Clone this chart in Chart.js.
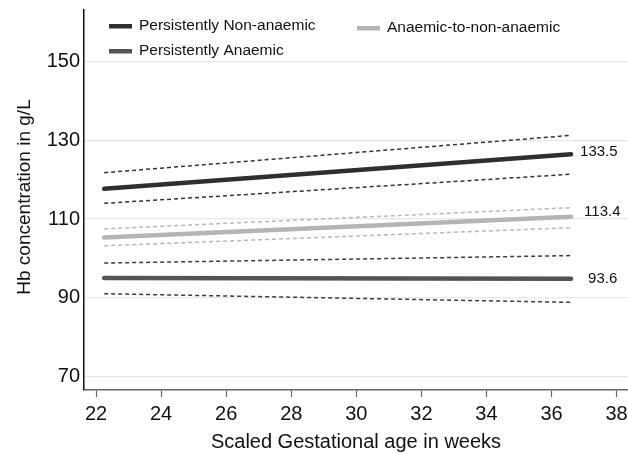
<!DOCTYPE html>
<html>
<head>
<meta charset="utf-8">
<script src="https://cdn.jsdelivr.net/npm/chart.js@4"></script>
<style>
html,body{margin:0;padding:0;background:#fff;}
#wrap{width:628px;height:454px;position:relative;}
</style>
</head>
<body>
<div id="wrap"><canvas id="c"></canvas></div>
<script>
// ---- data ----
const groups = ['Persistently Non-anaemic', 'Persistently Anaemic', 'Anaemic-to-non-anaemic'];
const ageX = [22.25, 36.6];
const nonAnaemicFit = [117.7, 126.5];
const nonAnaemicUpper = [121.8, 131.3];
const nonAnaemicLower = [114.0, 121.4];
const anaemicFit = [95.0, 94.8];
const anaemicUpper = [98.8, 100.7];
const anaemicLower = [91.0, 88.8];
const toNonFit = [105.3, 110.6];
const toNonUpper = [107.5, 112.9];
const toNonLower = [103.2, 107.8];
const endLabels = ['133.5', '93.6', '113.4'];
const xTicks = [22, 24, 26, 28, 30, 32, 34, 36, 38];
const yTicks = [70, 90, 110, 130, 150];
const yTitle = 'Hb concentration in g/L';
const xTitle = 'Scaled Gestational age in weeks';

const FONT = "'Liberation Sans', Arial, sans-serif";
const pts = arr => ageX.map((x, i) => ({x: x, y: arr[i]}));

const solidColors = ['#2f2f2f', '#545454', '#b4b4b4'];
const dashColors = ['#333333', '#3c3c3c', '#b8b8b8'];

function solid(label, data, color) {
  return {label, data: pts(data), borderColor: color, borderWidth: 4.5, pointRadius: 0,
    borderCapStyle: 'round', fill: false, tension: 0, order: 0};
}
function dashed(data, color) {
  return {label: '', data: pts(data), borderColor: color, borderWidth: 1.5, pointRadius: 0,
    borderDash: [4, 3], fill: false, tension: 0, order: 1};
}

const datasets = [
  solid(groups[0], nonAnaemicFit, solidColors[0]),
  solid(groups[1], anaemicFit, solidColors[1]),
  solid(groups[2], toNonFit, solidColors[2]),
  dashed(nonAnaemicUpper, dashColors[0]),
  dashed(nonAnaemicLower, dashColors[0]),
  dashed(anaemicUpper, dashColors[1]),
  dashed(anaemicLower, dashColors[1]),
  dashed(toNonUpper, dashColors[2]),
  dashed(toNonLower, dashColors[2])
];

const overlay = {
  id: 'overlay',
  afterDraw(chart) {
    const ctx = chart.ctx;
    const xs = chart.scales.x, ys = chart.scales.y;
    ctx.save();
    ctx.font = '15px ' + FONT;
    ctx.fillStyle = '#111';
    ctx.textAlign = 'left';
    ctx.textBaseline = 'middle';
    const offs = [[9, -2], [17, 0], [13, -5]];
    for (let i = 0; i < 3; i++) {
      const d = chart.data.datasets[i].data;
      const last = d[d.length - 1];
      ctx.fillText(endLabels[i], xs.getPixelForValue(last.x) + offs[i][0], ys.getPixelForValue(last.y) + offs[i][1]);
    }
    const pos = [[109, 26], [109, 51], [357, 28]];
    ctx.font = '15.5px ' + FONT;
    for (let i = 0; i < 3; i++) {
      const [lx, ly] = pos[i];
      ctx.fillStyle = solidColors[i];
      ctx.fillRect(lx, ly - 2, 23, 4.5);
      ctx.fillStyle = '#111';
      ctx.fillText(groups[i], lx + 30, ly);
    }
    // y axis title
    ctx.font = '19px ' + FONT;
    ctx.textAlign = 'center';
    ctx.translate(25, (ys.top + ys.bottom) / 2 - 3);
    ctx.rotate(-Math.PI / 2);
    ctx.fillText(yTitle, 0, 0);
    ctx.restore();
  }
};

new Chart(document.getElementById('c'), {
  type: 'line',
  data: {datasets},
  options: {
    responsive: true,
    maintainAspectRatio: false,
    animation: false,
    devicePixelRatio: 1,
    layout: {padding: {top: 10, right: 0, left: 0, bottom: 0}},
    plugins: {legend: {display: false}, tooltip: {enabled: false}},
    scales: {
      x: {
        type: 'linear', min: 21.63, max: 38.35,
        afterBuildTicks: s => { s.ticks = xTicks.map(v => ({value: v})); },
        afterFit: s => { s.height = 64; s.paddingLeft = 0; s.paddingRight = 0; },
        grid: {drawOnChartArea: false, drawTicks: true, tickLength: 7, color: '#666', tickWidth: 1.2},
        border: {display: true, color: '#666', width: 1.5},
        ticks: {font: {size: 20, family: FONT}, color: '#111', padding: 5, maxRotation: 0},
        title: {display: true, text: xTitle, font: {size: 20, family: FONT}, color: '#111', padding: {top: 0, bottom: 0}}
      },
      y: {
        type: 'linear', min: 66.5, max: 163.2,
        afterBuildTicks: s => { s.ticks = yTicks.map(v => ({value: v})); },
        afterFit: s => { s.width = 84; s.paddingTop = 0; s.paddingBottom = 0; },
        grid: {drawTicks: false, color: '#e8e8e8', lineWidth: 1.2},
        border: {display: true, color: '#111', width: 1.5},
        ticks: {font: {size: 20, family: FONT}, color: '#111', padding: 4},
        title: {display: false, text: yTitle}
      }
    }
  },
  plugins: [overlay]
});
</script>
</body>
</html>
